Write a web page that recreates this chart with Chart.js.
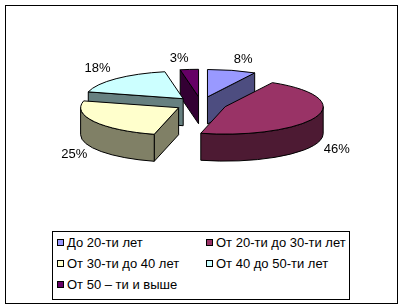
<!DOCTYPE html>
<html>
<head>
<meta charset="utf-8">
<script src="https://cdn.jsdelivr.net/npm/chart.js@4"></script>
<style>
    body { margin: 0; background: #fff; }
    #wrap { position: relative; width: 404px; height: 308px; overflow: hidden; font-family: "Liberation Sans", Arial, sans-serif; }
    #frame { position: absolute; left: 5px; top: 5px; width: 391px; height: 297px; border: 1px solid #000; }
    #ageChart { position: absolute; left: 0; top: 0; }
    #legend { position: absolute; left: 52px; top: 231px; width: 296px; height: 67px; border: 1px solid #000; background: #fff; }
    .item { position: absolute; font-size: 13px; line-height: 15px; white-space: nowrap; color: #000; }
    .item i { position: absolute; left: -10px; top: 4px; width: 5px; height: 5px; border: 1px solid #000; }
</style>
</head>
<body>
<div id="wrap">
    <div id="frame"></div>
    <canvas id="ageChart" width="404" height="308"></canvas>
    <div id="legend"></div>
</div>
<script>
// ─── DATA ─────────────────────────────────────────────────────────────────────
const ageGroups = ['До 20-ти лет', 'От 20-ти до 30-ти лет', 'От 30-ти до 40 лет', 'От 40 до 50-ти лет', 'От 50 – ти и выше'];
const shares = [8, 46, 25, 18, 3];
const sliceColors = ['#9999FF', '#993366', '#FFFFCC', '#CCFFFF', '#660066'];

// ─── 3D LOOK ──────────────────────────────────────────────────────────────────
const TILT = 0.28;    // squash of the top face
const DEPTH = 27;     // height of the pie wall
const EXPLODE = 26;   // how far each slice moves out

function shade(hex, f) {
    const n = parseInt(hex.slice(1), 16);
    const r = (n >> 16) & 255, g = (n >> 8) & 255, b = n & 255;
    return `rgb(${Math.round(r * f)},${Math.round(g * f)},${Math.round(b * f)})`;
}

const pie3d = {
    id: 'pie3d',
    beforeDatasetsDraw(chart) {
        const ctx = chart.ctx;
        const arcs = chart.getDatasetMeta(0).data;
        const total = shares.reduce((s, v) => s + v, 0);
        const mid = a => (a.startAngle + a.endAngle) / 2;
        // back slices first
        const order = arcs.map((a, i) => i).sort((i, j) => Math.sin(mid(arcs[i])) - Math.sin(mid(arcs[j])));
        const texts = [];

        ctx.save();
        ctx.lineWidth = 1;
        ctx.strokeStyle = '#000';
        ctx.lineJoin = 'round';

        order.forEach(i => {
            const a = arcs[i];
            const m = mid(a), R = a.outerRadius;
            const s = a.startAngle, e = a.endAngle;
            const ax = a.x + EXPLODE * Math.cos(m);
            const ay = a.y + EXPLODE * TILT * Math.sin(m);
            const px = t => ax + R * Math.cos(t);
            const py = t => ay + R * TILT * Math.sin(t);
            const side = shade(sliceColors[i], 0.5);

            const face = t => {
                ctx.beginPath();
                ctx.moveTo(ax, ay);
                ctx.lineTo(px(t), py(t));
                ctx.lineTo(px(t), py(t) + DEPTH);
                ctx.lineTo(ax, ay + DEPTH);
                ctx.closePath();
                ctx.fillStyle = side;
                ctx.fill();
                ctx.stroke();
            };
            if (Math.cos(s) < -1e-6) face(s);
            if (Math.cos(e) > 1e-6) face(e);

            // outer wall, front half only
            const lo = Math.max(s, 0), hi = Math.min(e, Math.PI);
            if (lo < hi) {
                ctx.beginPath();
                ctx.ellipse(ax, ay, R, R * TILT, 0, lo, hi);
                ctx.lineTo(px(hi), py(hi) + DEPTH);
                ctx.ellipse(ax, ay + DEPTH, R, R * TILT, 0, hi, lo, true);
                ctx.closePath();
                ctx.fillStyle = side;
                ctx.fill();
                ctx.stroke();
            }

            // top face: the chart.js arc, squashed
            ctx.save();
            ctx.translate(ax, ay);
            ctx.scale(1, TILT);
            ctx.translate(-a.x, -a.y);
            a.draw(ctx);
            ctx.restore();
            ctx.beginPath();
            ctx.moveTo(ax, ay);
            ctx.ellipse(ax, ay, R, R * TILT, 0, s, e);
            ctx.closePath();
            ctx.stroke();

            // percent label
            const c = Math.cos(m), sn = Math.sin(m);
            const front = sn > 0;
            texts.push({
                txt: Math.round(shares[i] / total * 100) + '%',
                x: px(m), y: py(m) + (front ? DEPTH : 0), c, sn, front
            });
        });

        ctx.font = '13px "Liberation Sans", Arial, sans-serif';
        ctx.fillStyle = '#000';
        ctx.textAlign = 'center';
        ctx.textBaseline = 'middle';
        texts.forEach(t => {
            const tw = ctx.measureText(t.txt).width;
            const x = t.x + t.c * 8 + Math.sign(t.c) * tw / 2;
            const y = t.y + (t.front ? 0 : t.sn * 6) + Math.sign(t.sn) * 5.5;
            ctx.fillText(t.txt, x, y);
        });
        ctx.restore();
        return false;
    }
};

new Chart(document.getElementById('ageChart'), {
    type: 'pie',
    data: {
        labels: ageGroups,
        datasets: [{
            data: shares,
            backgroundColor: sliceColors,
            borderWidth: 0,
            radius: 98
        }]
    },
    options: {
        responsive: false,
        animation: false,
        events: [],
        layout: { padding: { left: 0, right: 2, top: 0, bottom: 100 } },
        plugins: { legend: { display: false }, tooltip: { enabled: false } }
    },
    plugins: [pie3d]
});

// ─── LEGEND ───────────────────────────────────────────────────────────────────
const legend = document.getElementById('legend');
legend.innerHTML = ageGroups.map((g, i) => {
    const col = i % 2, row = Math.floor(i / 2);
    const left = col === 0 ? 14 : 163;
    const top = 3 + row * 21;
    return `<div class="item" style="left:${left}px;top:${top}px"><i style="background:${sliceColors[i]}"></i>${g}</div>`;
}).join('');
</script>
</body>
</html>
